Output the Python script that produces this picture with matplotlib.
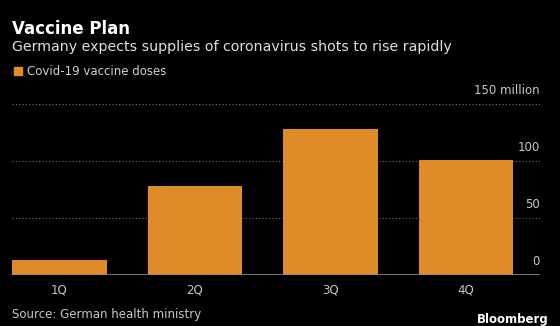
import matplotlib.pyplot as plt

quarters = ["1Q", "2Q", "3Q", "4Q"]
doses = [13.5, 77.5, 127.5, 101]  # million
y_ticks = [0, 50, 100, 150]
y_labels = ["0", "50", "100", "150 million"]

bg = "black"
orange = "#DF8B27"

plt.rcParams["font.family"] = ["DejaVu Sans"]

fig = plt.figure(figsize=(5.6, 3.26), dpi=100, facecolor=bg)
ax = fig.add_axes([0.0214, 0.1564, 0.9429, 0.526], facecolor=bg)

x = range(len(quarters))
ax.bar(x, doses, width=0.7, color=orange, zorder=2)

ax.set_xlim(-0.35, 3.546)
ax.set_ylim(0, 150)

for t in y_ticks[1:]:
    ax.axhline(t, color="#707070", lw=0.8, ls=(0, (1, 2)), zorder=1)
ax.axhline(0, color="#8a8a8a", lw=1.2, zorder=3)

for t, lab in zip(y_ticks, y_labels):
    ax.annotate(lab, xy=(1, t), xycoords=("axes fraction", "data"),
                xytext=(0, 5), textcoords="offset points",
                ha="right", va="bottom", color="#c8c8c8", fontsize=8.5)

ax.set_xticks(list(x))
ax.set_xticklabels(quarters, color="#c8c8c8", fontsize=8.5)
ax.tick_params(axis="x", length=0, pad=6)
ax.set_yticks([])
for s in ax.spines.values():
    s.set_visible(False)

fig.text(0.0214, 0.912, "Vaccine Plan", color="white", fontsize=12,
         fontweight="bold", va="center")
fig.text(0.0214, 0.856, "Germany expects supplies of coronavirus shots to rise rapidly",
         color="#e0e0e0", fontsize=10.2, va="center")
fig.patches.append(plt.Rectangle((0.0245, 0.769), 0.0143, 0.0245,
                                 transform=fig.transFigure, color=orange))
fig.text(0.0482, 0.781, "Covid-19 vaccine doses", color="#d0d0d0",
         fontsize=8.5, va="center")
fig.text(0.0214, 0.035, "Source: German health ministry", color="#c8c8c8",
         fontsize=8.5, va="center")
fig.text(0.98, 0.02, "Bloomberg", color="white", fontsize=8.5,
         fontweight="bold", ha="right", va="center")

fig.savefig("out.png", dpi=100, facecolor=bg)
